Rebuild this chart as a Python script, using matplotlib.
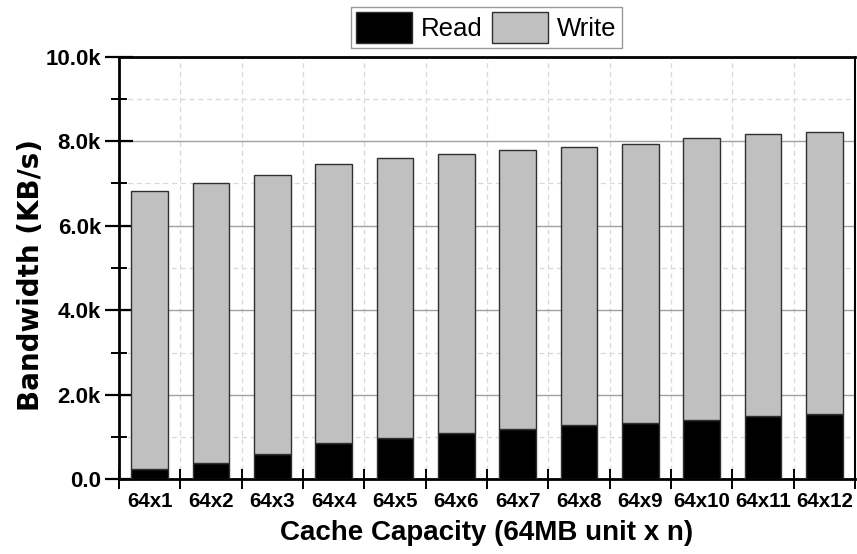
import matplotlib
matplotlib.use("Agg")
import matplotlib.pyplot as plt
from matplotlib.patches import Patch
from matplotlib.ticker import MultipleLocator, FixedLocator, FuncFormatter, NullFormatter
import numpy as np

# Cache capacity configurations (64MB unit x n)
categories = ["64x1", "64x2", "64x3", "64x4", "64x5", "64x6",
              "64x7", "64x8", "64x9", "64x10", "64x11", "64x12"]
# Bandwidth in KB/s; write is stacked on top of read
read_bw = [240, 390, 600, 850, 980, 1090, 1180, 1280, 1330, 1400, 1500, 1550]
write_bw = [6590, 6610, 6600, 6600, 6620, 6610, 6620, 6590, 6600, 6670, 6660, 6670]

narrow = ["Liberation Sans Narrow", "Liberation Sans", "DejaVu Sans"]
wide = ["DejaVu Sans"]

fig = plt.figure(figsize=(8.57, 5.54), dpi=100)
ax = fig.add_axes([0.1389, 0.1348, 0.9977 - 0.1389, 0.8977 - 0.1348])

x = np.arange(len(categories))
ax.bar(x, read_bw, width=0.6, color="black", edgecolor="#303030",
       linewidth=1.0, zorder=3)
ax.bar(x, write_bw, width=0.6, bottom=read_bw, color="#c0c0c0",
       edgecolor="#303030", linewidth=1.0, zorder=3)

ax.set_xlim(-0.5, len(categories) - 0.5)
ax.set_ylim(0, 10000)

# y axis: major every 2k, minor every 1k
ax.yaxis.set_major_locator(MultipleLocator(2000))
ax.yaxis.set_minor_locator(MultipleLocator(1000))
ax.yaxis.set_major_formatter(FuncFormatter(lambda v, p: f"{v/1000:.1f}k" if v > 0 else "0.0"))
ax.tick_params(axis="y", which="major", direction="inout", length=20, width=1.6,
               pad=3)
ax.tick_params(axis="y", which="minor", direction="inout", length=12, width=1.4)

# x axis: tick marks at category boundaries, labels at centres
ax.xaxis.set_major_locator(FixedLocator(np.arange(-0.5, len(categories) + 0.5, 1)))
ax.xaxis.set_major_formatter(NullFormatter())
ax.xaxis.set_minor_locator(FixedLocator(x))
ax.set_xticklabels(categories, minor=True)
ax.tick_params(axis="x", which="major", direction="inout", length=14, width=1.4)
ax.tick_params(axis="x", which="minor", length=0, pad=9)

for lbl in ax.get_yticklabels():
    lbl.set_fontfamily(narrow)
    lbl.set_fontweight("bold")
    lbl.set_fontsize(16)
for lbl in ax.get_xticklabels(minor=True):
    lbl.set_fontfamily(narrow)
    lbl.set_fontweight("bold")
    lbl.set_fontsize(14.8)

# grid
ax.yaxis.grid(True, which="major", color="#a0a0a0", linewidth=1.0, linestyle="-", zorder=0)
ax.yaxis.grid(True, which="minor", color="#d8d8d8", linewidth=0.9, linestyle=(0, (4, 3)), zorder=0)
ax.xaxis.grid(True, which="major", color="#d8d8d8", linewidth=0.9, linestyle=(0, (4, 3)), zorder=0)
ax.set_axisbelow(True)

for side in ["left", "bottom", "top"]:
    ax.spines[side].set_linewidth(2.0)
    ax.spines[side].set_color("black")
ax.spines["right"].set_linewidth(1.5)

ax.set_xlabel("Cache Capacity (64MB unit x n)", fontfamily=narrow,
              fontweight="bold", fontsize=20, va="center")
ax.xaxis.set_label_coords(0.5, -0.127)
ax.set_ylabel("Bandwidth (KB/s)", fontfamily=wide, fontweight="bold",
              fontsize=20, va="center")
ax.yaxis.set_label_coords(-0.1196, 0.483)

handles = [Patch(facecolor="black", edgecolor="#303030", label="Read"),
           Patch(facecolor="#c0c0c0", edgecolor="#303030", label="Write")]
leg = fig.legend(handles=handles, loc="upper center", ncol=2,
                 bbox_to_anchor=(0.5675, 0.988), bbox_transform=fig.transFigure,
                 frameon=True, fancybox=False, edgecolor="#808080",
                 prop={"family": narrow, "size": 18.5},
                 handlelength=2.18, handleheight=1.48, handletextpad=0.35,
                 columnspacing=0.35, borderpad=0.2, borderaxespad=0)
leg.get_frame().set_linewidth(1.0)

fig.savefig("out.png", dpi=100)
